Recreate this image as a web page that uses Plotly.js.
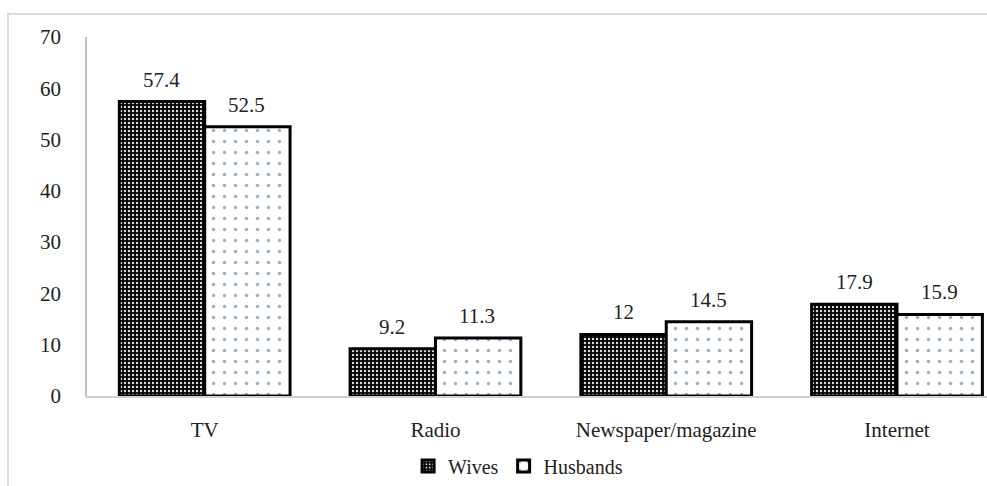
<!DOCTYPE html>
<html>
<head>
<meta charset="utf-8">
<script src="https://cdn.plot.ly/plotly-3.0.1.min.js"></script>
<style>
  html, body { margin: 0; padding: 0; background: #fff; }
  #wrap { position: relative; width: 987px; height: 486px; overflow: hidden; }
  #frame { position: absolute; left: 7px; top: 13px; width: 990px; height: 490px;
           border-left: 2px solid #dcdcdc; border-top: 2px solid #dcdcdc; pointer-events: none; }
  #chart { position: absolute; left: 0; top: 0; width: 987px; height: 486px; }
</style>
</head>
<body>
<div id="wrap">
  <div id="frame"></div>
  <div id="chart"></div>
</div>
<script>
const categories = ["TV", "Radio", "Newspaper/magazine", "Internet"];
const wives = [57.4, 9.2, 12, 17.9];
const husbands = [52.5, 11.3, 14.5, 15.9];
const seriesNames = ["Wives", "Husbands"];

const SERIF = "Times New Roman";
const TXT = "#222";

const traces = [
  {
    type: "bar", name: seriesNames[0], x: categories, y: wives,
    marker: {
      color: "#000",
      line: { color: "#000", width: 3 },
      pattern: { shape: ".", bgcolor: "#000", fgcolor: "#d8d8d8", size: 4, solidity: 0.3 }
    }
  },
  {
    type: "bar", name: seriesNames[1], x: categories, y: husbands,
    marker: {
      color: "#fff",
      line: { color: "#000", width: 3 },
      pattern: { shape: ".", bgcolor: "#ffffff", fgcolor: "#9fb0c2", size: 11, solidity: 0.08 }
    }
  }
];

const annotations = [];
categories.forEach((c, i) => {
  annotations.push({ x: c, y: wives[i], text: String(wives[i]), xshift: -43, yshift: 8,
    yanchor: "bottom", showarrow: false, font: { family: SERIF, size: 21, color: TXT } });
  annotations.push({ x: c, y: husbands[i], text: String(husbands[i]), xshift: 42, yshift: 8,
    yanchor: "bottom", showarrow: false, font: { family: SERIF, size: 21, color: TXT } });
});

const layout = {
  width: 987, height: 486,
  margin: { l: 87, r: 0, t: 37, b: 90 },
  paper_bgcolor: "rgba(0,0,0,0)",
  plot_bgcolor: "rgba(0,0,0,0)",
  barmode: "group",
  bargap: 0.26,
  bargroupgap: 0,
  font: { family: SERIF, size: 21, color: TXT },
  xaxis: {
    type: "category",
    range: [-0.51, 3.39],
    showline: true, linecolor: "#cfcfcf", linewidth: 1.5,
    showgrid: false, zeroline: false, ticks: "",
    ticklabelstandoff: 14,
    tickfont: { family: SERIF, size: 21, color: TXT }
  },
  yaxis: {
    range: [0, 70], dtick: 10, tick0: 0,
    showline: true, linecolor: "#bfbfbf", linewidth: 1.5,
    showgrid: false, zeroline: false, ticks: "",
    ticklabelstandoff: 20,
    tickfont: { family: SERIF, size: 21, color: TXT }
  },
  showlegend: true,
  legend: {
    orientation: "h", x: 0.479, xanchor: "center", y: -0.195, yanchor: "middle",
    font: { family: SERIF, size: 20, color: TXT },
    itemwidth: 30, traceorder: "normal"
  },
  annotations: annotations
};

Plotly.newPlot("chart", traces, layout, { displayModeBar: false });
</script>
</body>
</html>
